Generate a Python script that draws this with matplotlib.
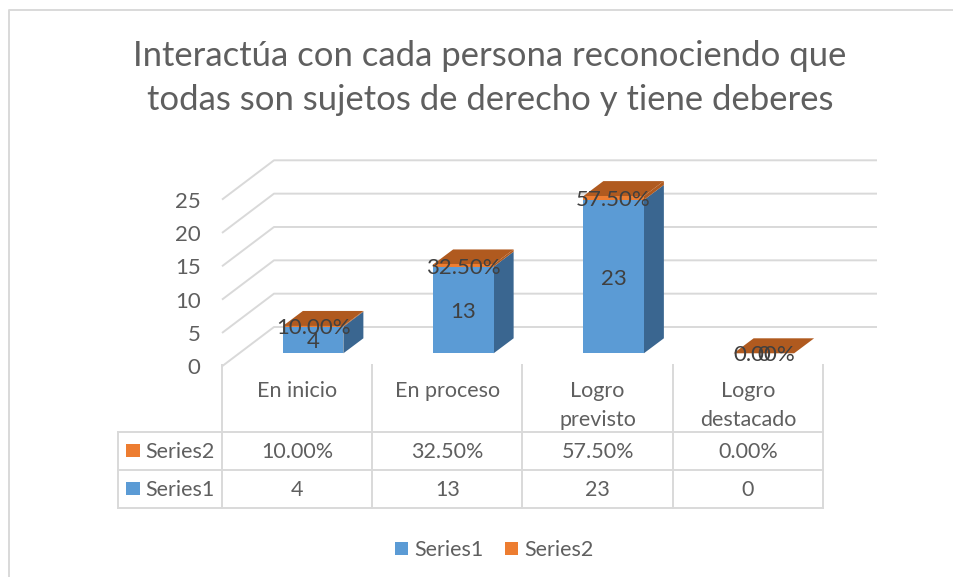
import matplotlib
matplotlib.use('Agg')
import matplotlib.pyplot as plt
from matplotlib.patches import Polygon, Rectangle

# Daten
categories = ['En inicio', 'En proceso', 'Logro\nprevisto', 'Logro\ndestacado']
series1 = [4, 13, 23, 0]
series2 = [0.10, 0.325, 0.575, 0.0]
series2_labels = ['10.00%', '32.50%', '57.50%', '0.00%']
y_ticks = [0, 5, 10, 15, 20, 25]
title_lines = ['Interactúa con cada persona reconociendo que',
               'todas son sujetos de derecho y tiene deberes']

W, H = 954, 577
GREY = '#d9d9d9'
TEXT = '#5f5f5f'
LABEL = '#404040'
BLUE, ORANGE = '#5b9bd5', '#ed7d31'
BLUE_SIDE, ORANGE_TOP = '#3a6690', '#b05a1f'
LW = 1.4
FS = 15.5

plt.rcParams['font.family'] = ['Lato', 'DejaVu Sans']

fig = plt.figure(figsize=(W / 100, H / 100), dpi=100)

# Ebene in Pixeln fuer Rahmen, Tabelle und Legende
page = fig.add_axes([0, 0, 1, 1])
page.set_xlim(0, W)
page.set_ylim(H, 0)
page.axis('off')

# Datenachse liegt auf der Vorderseite der Balken
left, right, base, top25 = 222, 823, 353.3, 186.6
ax = fig.add_axes([left / W, 1 - base / H, (right - left) / W, (base - top25) / H])
ax.set_xlim(0, len(categories))
ax.set_ylim(0, 25)
ax.axis('off')
ax.patch.set_alpha(0)

px_x = len(categories) / (right - left)
px_y = 25 / (base - top25)

# Raumtiefe der Wand und der Balken
wall_dx, wall_dy = 52 * px_x, 26.3 * px_y
front_dy = -13 * px_y
bar_dx, bar_dy = 20 * px_x, 15 * px_y
bar_w = 60.5 * px_x
bar_shift = 16 * px_x
wall_end = (877 - left) * px_x

# Gitternetz
for t in y_ticks:
    ax.plot([0, wall_dx, wall_end], [t + front_dy, t + wall_dy, t + wall_dy],
            color=GREY, lw=LW, clip_on=False, zorder=1, solid_capstyle='butt')
    ax.text(-21.5 * px_x, t + front_dy, str(t), ha='right', va='center_baseline',
            fontsize=16, color=TEXT, clip_on=False)

# Balken gestapelt
xs = [i + 0.5 + bar_shift for i in range(len(categories))]
ax.bar(xs, series1, bar_w, color=BLUE, clip_on=False, zorder=3)
ax.bar(xs, series2, bar_w, bottom=series1, color=ORANGE, clip_on=False, zorder=3)

for x, a, b in zip(xs, series1, series2):
    x1 = x + bar_w / 2
    x0 = x - bar_w / 2
    tot = a + b
    # Seitenflaeche
    ax.add_patch(Polygon([(x1, 0), (x1 + bar_dx, bar_dy), (x1 + bar_dx, a + bar_dy), (x1, a)],
                         color=BLUE_SIDE, lw=0, clip_on=False, zorder=2))
    ax.add_patch(Polygon([(x1, a), (x1 + bar_dx, a + bar_dy), (x1 + bar_dx, tot + bar_dy), (x1, tot)],
                         color=ORANGE_TOP, lw=0, clip_on=False, zorder=2))
    # Deckflaeche
    ax.add_patch(Polygon([(x0, tot), (x1, tot), (x1 + bar_dx, tot + bar_dy), (x0 + bar_dx, tot + bar_dy)],
                         color=ORANGE_TOP, lw=0, clip_on=False, zorder=2))

# Datenbeschriftung
for x, a, b, s in zip(xs, series1, series2, series2_labels):
    ax.text(x, a / 2, str(a), ha='center', va='center_baseline', fontsize=16, color=LABEL,
            zorder=5, clip_on=False)
    ax.text(x, a + b / 2, s, ha='center', va='center_baseline', fontsize=16, color=LABEL,
            zorder=5, clip_on=False)

# Rahmen
page.plot([9, 9, 953], [H, 10, 10], color=GREY, lw=LW)

# Titel
page.text(490, 56, title_lines[0], ha='center', va='center', fontsize=24.9, color=TEXT)
page.text(490, 100, title_lines[1], ha='center', va='center', fontsize=24.9, color=TEXT)

# Datentabelle
col_x = [left + i * (right - left) / len(categories) for i in range(len(categories) + 1)]
row_y = [432, 470, 508]
for cx in col_x:
    page.plot([cx, cx], [365, row_y[-1]], color=GREY, lw=LW)
page.plot([118, 118], [row_y[0], row_y[-1]], color=GREY, lw=LW)
for ry in row_y:
    page.plot([118, right], [ry, ry], color=GREY, lw=LW)

for i, c in enumerate(categories):
    cx = (col_x[i] + col_x[i + 1]) / 2
    for j, ln in enumerate(c.split('\n')):
        page.text(cx, 389 + j * 29, ln, ha='center', va='center_baseline', fontsize=FS, color=TEXT)
    page.text(cx, 450, series2_labels[i], ha='center', va='center_baseline', fontsize=FS, color=TEXT)
    page.text(cx, 488, str(series1[i]), ha='center', va='center_baseline', fontsize=FS, color=TEXT)

# Legendenschluessel in der Tabelle
for name, col, ky in [('Series2', ORANGE, 450), ('Series1', BLUE, 488)]:
    page.add_patch(Rectangle((126, ky - 6.5), 14, 13, color=col, lw=0))
    page.text(145, ky, name, ha='left', va='center_baseline', fontsize=FS, color=TEXT)

# Legende unten
for name, col, kx in [('Series1', BLUE, 395), ('Series2', ORANGE, 505)]:
    page.add_patch(Rectangle((kx, 542), 13, 13, color=col, lw=0))
    page.text(kx + 19, 547.5, name, ha='left', va='center_baseline', fontsize=FS, color=TEXT)

fig.savefig('out.png', dpi=100)
